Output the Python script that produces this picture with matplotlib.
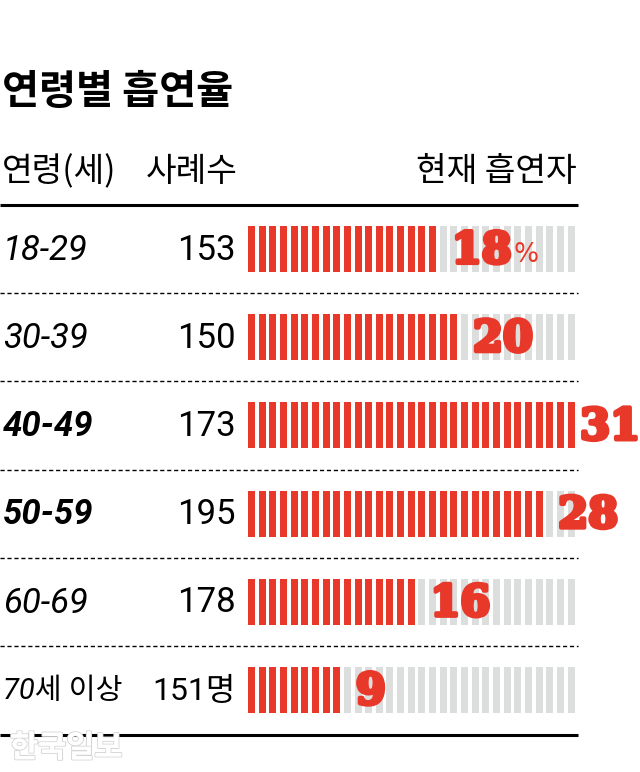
import matplotlib
matplotlib.use('Agg')
import matplotlib.pyplot as plt
import matplotlib.patheffects as pe

plt.rcParams['font.family'] = ['Roboto', 'Noto Sans CJK KR', 'DejaVu Sans']

# data
ages = ['18-29', '30-39', '40-49', '50-59', '60-69', '70세 이상']
counts = ['153', '150', '173', '195', '178', '151명']
rates = [18, 20, 31, 28, 16, 9]
bold_rows = ['40-49', '50-59']
n_stripes = 31

title = '연령별 흡연율'
headers = ['연령(세)', '사례수', '현재 흡연자']

RED = '#e8382a'
GRAY = '#dcdddd'

fig = plt.figure(figsize=(6.4, 7.72), dpi=100)
ax = fig.add_axes([0, 0, 1, 1])
ax.set_xlim(0, 640)
ax.set_ylim(772, 0)
ax.axis('off')

x0 = 248
pitch = 10.65
stripe_w = 7
bar_h = 46
row_y0 = 249
row_gap = 88.2

ax.text(2, 92, title, fontsize=29, fontweight='bold', va='center',
        family=['Noto Sans CJK KR'])
hdr = dict(fontsize=24, va='center', family=['Noto Sans CJK KR'],
           fontweight='light')
ax.text(2, 172, headers[0], **hdr)
ax.text(146, 172, headers[1], **hdr)
ax.text(577, 172, headers[2], ha='right', **hdr)

ax.plot([0, 578], [205, 205], color='black', lw=2.2, solid_capstyle='butt')
ax.plot([0, 578], [735, 735], color='black', lw=2.2, solid_capstyle='butt')

fig.canvas.draw()
inv = ax.transData.inverted()

for i, (age, cnt, rate) in enumerate(zip(ages, counts, rates)):
    y = row_y0 + i * row_gap
    xs = [x0 + k * pitch for k in range(n_stripes)]
    colors = [RED if k < rate else GRAY for k in range(n_stripes)]
    ax.bar(xs, bar_h, bottom=y - bar_h / 2, width=stripe_w, align='edge',
           color=colors, linewidth=0)

    weight = 'bold' if age in bold_rows else 'normal'
    small = any(ord(c) > 0x1100 for c in age)
    ax.text(3, y + 1, age, fontsize=21 if small else 25, style='italic',
            fontweight=weight, va='center')
    ax.text(236, y + 1, cnt, fontsize=23 if small else 25, ha='right',
            va='center')

    lbl = ax.text(x0 + rate * pitch + 12, y + 2, str(rate), fontsize=31,
                  fontweight='bold', color=RED, va='center',
                  family=['DejaVu Serif'])
    lbl.set_path_effects([pe.withStroke(linewidth=3, foreground=RED)])
    bb = lbl.get_window_extent(fig.canvas.get_renderer()).transformed(inv)
    if bb.x1 > 640:
        lbl.set_x(lbl.get_position()[0] - (bb.x1 - 640))
    if i == 0:
        ax.text(bb.x1 + 2, y + 6, '%', fontsize=19, color=RED, va='center',
                family=['DejaVu Sans'])

    if i < len(ages) - 1:
        ax.plot([0, 578], [y + row_gap / 2] * 2, color='black', lw=1,
                ls=(0, (3, 2)))

wm = ax.text(10, 748, '한국일보', fontsize=22, fontweight='bold', color='white',
             va='center', family=['Noto Sans CJK KR'])
wm.set_path_effects([pe.withStroke(linewidth=1.5, foreground='#d6d6d6'),
                     pe.Normal()])

fig.savefig('out.png', dpi=100)
